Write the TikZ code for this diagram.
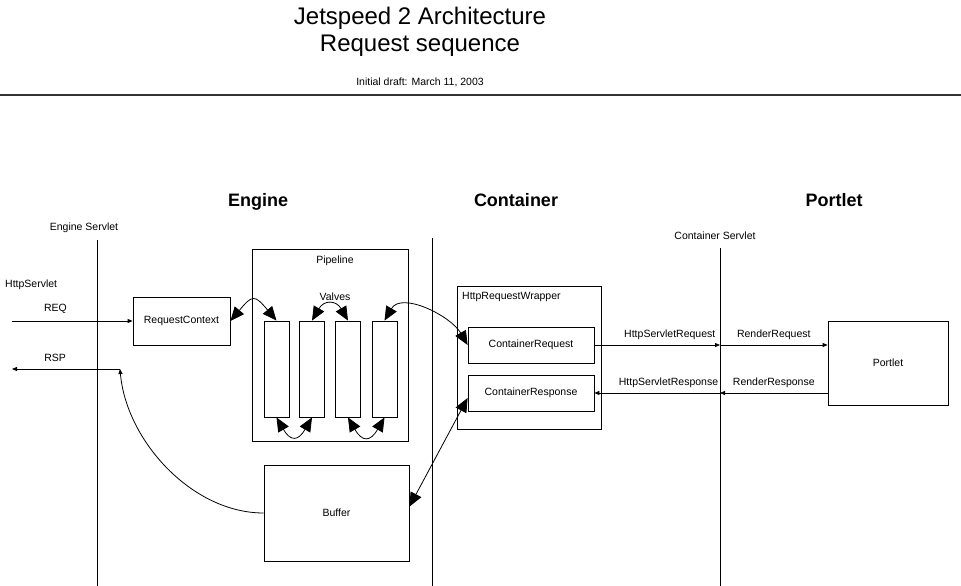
\documentclass[tikz,border=0pt]{standalone}
\usepackage{fontspec}
\setmainfont{Liberation Sans}
\usetikzlibrary{arrows.meta}

\begin{document}
\begin{tikzpicture}[x=1pt,y=-1pt,line width=0.8pt,
    lbl/.style={font=\fontsize{10.5}{12}\selectfont},
    head/.style={font=\fontsize{18}{21}\selectfont\bfseries},
    box/.style={draw,lbl,inner sep=0pt},
    arr/.style={-{Triangle[length=5pt,width=4pt]}},
    twoway/.style={{Triangle[length=14pt,width=12pt]}-{Triangle[length=14pt,width=12pt]}}]
    \useasboundingbox (0,0) rectangle (961,586);
    % title
    \node[font=\fontsize{24}{28}\selectfont] (title) at (420,18) {Jetspeed 2 Architecture};
    \node[font=\fontsize{24}{28}\selectfont] (subtitle) at (420,46) {Request sequence};
    \node[lbl] (draft) at (420,82) {Initial draft: March 11, 2003};
    \draw[black!80,line width=1.5pt] (0,95) -- (961,95);
    %
    \node[head] (engine) at (258,202) {Engine};
    \node[head] (container) at (516,200) {Container};
    \node[head] (portlethead) at (834,200) {Portlet};
    %
    \node[lbl] (es) at (84,228) {Engine Servlet};
    \node[lbl] (cs) at (715,236) {Container Servlet};
    \node[lbl,anchor=west] (hs) at (1.5,285) {HttpServlet};
    \draw (97,240) -- (97,586);
    \draw (432,238) -- (432,586);
    \coordinate (cstop) at (720,248);
    \draw (cstop) -- (720,586);
    %
    \node[box,minimum width=97pt,minimum height=48pt] (reqctx) at (181.5,321) {RequestContext};
    \node[box,minimum width=156pt,minimum height=192pt] (pipeline) at (330,345) {};
    \node[lbl] at (335,261) {Pipeline};
    \node[lbl] at (335,297) {Valves};
    \foreach \i/\x in {1/276.5,2/312,3/348,4/384.5}
        \node[box,minimum width=25pt,minimum height=96pt] (v\i) at (\x,369) {};
    \node[box,minimum width=145pt,minimum height=96pt] (buffer) at (336.5,513) {Buffer};
    %
    \node[box,minimum width=144pt,minimum height=143pt] (wrapper) at (529,357.5) {};
    \node[lbl,anchor=west] at (458.5,297) {HttpRequestWrapper};
    \node[box,minimum width=126pt,minimum height=36pt] (creq) at (531,345) {ContainerRequest};
    \node[box,minimum width=126pt,minimum height=36pt] (cresp) at (531,393) {ContainerResponse};
    \node[box,minimum width=120pt,minimum height=84pt] (portlet) at (888,363) {Portlet};
    %
    \coordinate (reqin) at (12,321);
    \coordinate (rspout) at (12,369);
    \coordinate (rspend) at (120,369);
    \draw[arr] (reqin) -- node[lbl,above=4pt,pos=0.36] {REQ} (reqctx.west);
    \draw[arr] (rspend) -- node[lbl,above=4pt,pos=0.6] {RSP} (rspout);
    \draw[arr] (buffer.west) to[out=180,in=-85,looseness=0.9] (rspend);
    %
    \draw[twoway] (reqctx.east) to[out=50,in=130,looseness=1.9] (v1.north);
    \draw[twoway] (v2.north) to[out=60,in=120,looseness=1.7] (v3.north);
    \draw[twoway] (v1.south) to[out=-60,in=-120,looseness=2] (v2.south);
    \draw[twoway] (v3.south) to[out=-60,in=-120,looseness=2] (v4.south);
    \draw[twoway] (v4.north) to[out=60,in=120] (creq.west);
    \draw[twoway] (buffer.5) -- ([yshift=-5pt]cresp.west);
    %
    \draw[arr] (creq.east) -- node[lbl,above=1.5pt,pos=0.6] {HttpServletRequest} (creq.east -| cstop);
    \draw[arr] (creq.east -| cstop) -- node[lbl,above=1.5pt] {RenderRequest} (portlet.west |- creq.east);
    \draw[arr] (portlet.west |- cresp.east) -- node[lbl,above=1.5pt] {RenderResponse} (cresp.east -| cstop);
    \draw[arr] (cresp.east -| cstop) -- node[lbl,above=1.5pt,pos=0.41] {HttpServletResponse} (cresp.east);
\end{tikzpicture}
\end{document}
